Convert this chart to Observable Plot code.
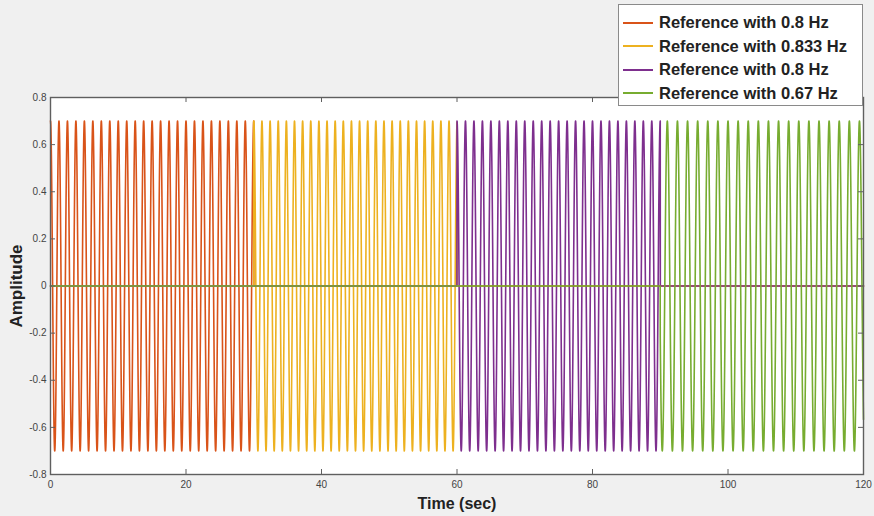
<!DOCTYPE html>
<html>
<head>
<meta charset="utf-8">
<script src="https://cdn.jsdelivr.net/npm/d3@7"></script>
<script src="https://cdn.jsdelivr.net/npm/@observablehq/plot@0.6"></script>
<style>
  html, body { margin: 0; padding: 0; background: #f0f0f0; }
  #wrap { position: relative; width: 874px; height: 516px; overflow: hidden; }
  #chart svg { display: block; }
  #chart [aria-label="x-axis label"] text { font-weight: bold; font-size: 16px; fill: #222; }
  #chart [aria-label="y-axis label"] text { font-weight: bold; font-size: 17px; fill: #222; }
  #legend {
    position: absolute; left: 618px; top: 4px; width: 245px; height: 102px;
    background: #fff; border: 1px solid #8a8a8a; box-sizing: border-box;
    font-family: "Liberation Sans", Arial, sans-serif; font-weight: bold; font-size: 16.5px; color: #222;
    padding-top: 6px;
  }
  .row { display: flex; align-items: center; height: 23.5px; white-space: nowrap; }
  .swatch { width: 30px; height: 0; border-top: 2px solid; margin-left: 4px; margin-right: 6px; }
</style>
</head>
<body>
<div id="wrap">
  <div id="chart"></div>
  <div id="legend"></div>
</div>
<script>
// Four reference signals, each active in its own 30 s window and zero elsewhere
const seriesNames = ["Reference with 0.8 Hz", "Reference with 0.833 Hz", "Reference with 0.8 Hz", "Reference with 0.67 Hz"];
const segStart = [0, 30, 60, 90];
const segEnd = [30, 60, 90, 120];
const freqs = [0.8, 0.833, 0.8, 0.67];
const amplitude = 0.7;
const colors = ["#D95319", "#EDB120", "#7E2F8E", "#77AC30"];
const xTicks = [0, 20, 40, 60, 80, 100, 120];
const yTicks = [-0.8, -0.6, -0.4, -0.2, 0, 0.2, 0.4, 0.6, 0.8];
const tMax = 120;
const dt = 0.01;

// Sample each signal over the full time span
const rows = [];
seriesNames.forEach((name, i) => {
  const n = Math.round(tMax / dt);
  for (let k = 0; k <= n; k++) {
    const t = k * dt;
    const on = t >= segStart[i] && t <= segEnd[i];
    rows.push({ series: i, t, v: on ? amplitude * Math.cos(2 * Math.PI * freqs[i] * t) : 0 });
  }
});

const W = 874, H = 516, mL = 50, mR = 11, mT = 97, mB = 42;
const innerH = H - mT - mB, innerW = W - mL - mR;
const tick = 5, axisColor = "#5f5f5f";
const fmt = d => d === 0 ? "0" : d.toFixed(1);

const chart = Plot.plot({
  width: W, height: H,
  marginLeft: mL, marginRight: mR, marginTop: mT, marginBottom: mB,
  style: { background: "transparent", fontFamily: "Liberation Sans, Arial, sans-serif", fontSize: "10px", color: "#444" },
  x: { domain: [0, 120] },
  y: { domain: [-0.8, 0.8] },
  marks: [
    Plot.frame({ fill: "white" }),
    ...seriesNames.map((name, i) =>
      Plot.line(rows.filter(r => r.series === i), { x: "t", y: "v", stroke: colors[i], strokeWidth: 1.6 })
    ),
    // inward ticks on all four sides
    Plot.tickX(xTicks, { x: d => d, insetTop: innerH - tick, stroke: axisColor }),
    Plot.tickX(xTicks, { x: d => d, insetBottom: innerH - tick, stroke: axisColor }),
    Plot.tickY(yTicks, { y: d => d, insetRight: innerW - tick, stroke: axisColor }),
    Plot.tickY(yTicks, { y: d => d, insetLeft: innerW - tick, stroke: axisColor }),
    Plot.axisX({ ticks: xTicks, tickSize: 0, tickPadding: 6, tickFormat: d => String(d), label: "Time (sec)", labelAnchor: "center", labelArrow: "none", labelOffset: 34 }),
    Plot.axisY({ ticks: yTicks, tickSize: 0, tickPadding: 4, tickFormat: fmt, label: "Amplitude", labelAnchor: "center", labelArrow: "none", labelOffset: 41 }),
    Plot.frame({ stroke: axisColor, strokeWidth: 1.4 })
  ]
});
document.getElementById("chart").appendChild(chart);

// Legend box in the upper right
const legend = document.getElementById("legend");
seriesNames.forEach((name, i) => {
  const row = document.createElement("div");
  row.className = "row";
  const sw = document.createElement("span");
  sw.className = "swatch";
  sw.style.borderColor = colors[i];
  const label = document.createElement("span");
  label.textContent = name;
  row.appendChild(sw);
  row.appendChild(label);
  legend.appendChild(row);
});
</script>
</body>
</html>
